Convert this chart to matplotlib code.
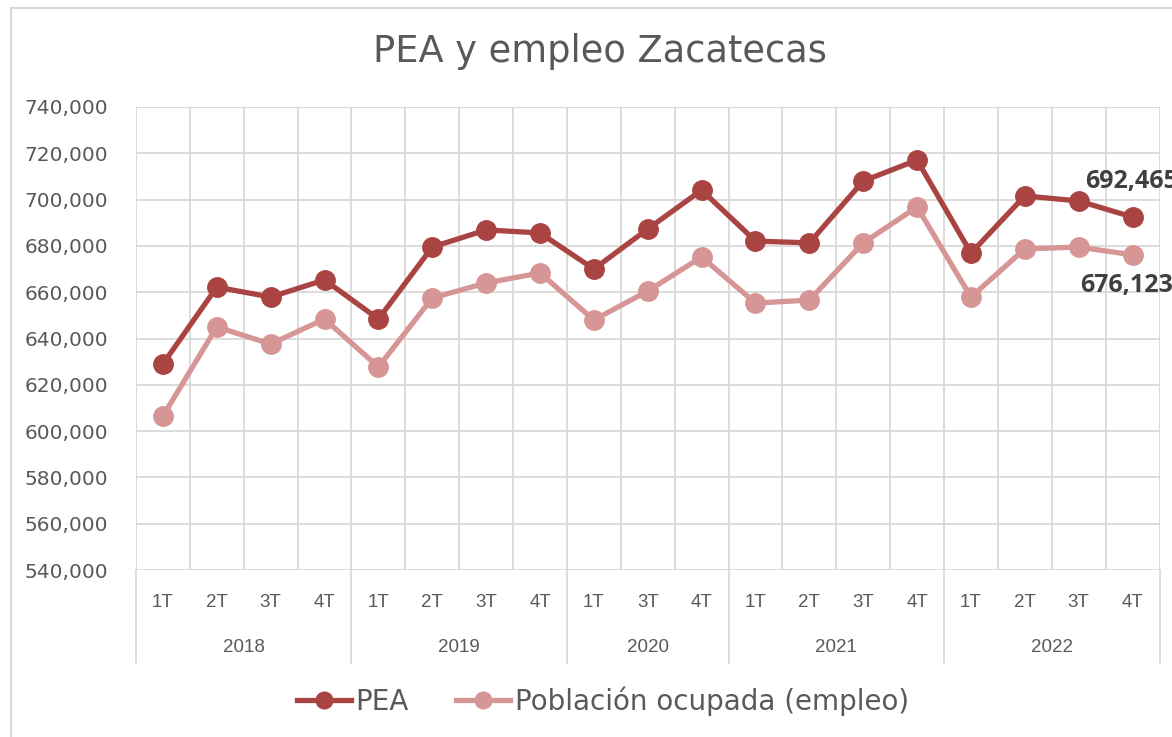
import matplotlib
matplotlib.use("Agg")
import matplotlib.pyplot as plt
from matplotlib.lines import Line2D
from matplotlib.patches import Rectangle

years = ["2018", "2019", "2020", "2021", "2022"]
quarters = [["1T", "2T", "3T", "4T"], ["1T", "2T", "3T", "4T"], ["1T", "3T", "4T"],
            ["1T", "2T", "3T", "4T"], ["1T", "2T", "3T", "4T"]]
pea = [629000, 662200, 657900, 665300, 648400, 679500, 686900, 685600, 670000,
       687300, 704100, 682100, 681300, 708000, 717100, 676900, 701600, 699400, 692465]
empleo = [606500, 645000, 637600, 648400, 627700, 657500, 664000, 668300, 648000,
          660500, 675200, 655300, 656600, 681300, 696800, 657900, 678700, 679500, 676123]
yticks = list(range(540000, 740001, 20000))

C_PEA = "#AA4442"
C_EMP = "#D69695"
GRID = "#D9D9D9"
TXT = "#595959"
FONT = "DejaVu Sans"

W, H = 1172, 737
fig = plt.figure(figsize=(W / 100, H / 100), dpi=100)
fig.patch.set_facecolor("white")

L, R, T, B = 136, 1159.5, 107, 570
ax = fig.add_axes([L / W, 1 - B / H, (R - L) / W, (B - T) / H])

n = len(pea)
x = list(range(n))
ax.set_xlim(-0.5, n - 0.5)
ax.set_ylim(540000, 740000)

ax.plot(x, pea, color=C_PEA, lw=3.8, marker="o", ms=14, zorder=4, solid_capstyle="round")
ax.plot(x, empleo, color=C_EMP, lw=3.8, marker="o", ms=14, zorder=3, solid_capstyle="round")

for v in yticks:
    ax.axhline(v, color=GRID, lw=1.3, zorder=1)
for i in range(n + 1):
    ax.axvline(i - 0.5, color=GRID, lw=1.3, zorder=1)

for s in ax.spines.values():
    s.set_visible(False)
ax.set_xticks([])
ax.set_yticks(yticks)
ax.set_yticklabels([f"{v:,}" for v in yticks], fontsize=14.5, color=TXT, family=FONT)
ax.tick_params(axis="y", length=0, pad=20)

# multi-level category axis
trans = ax.get_xaxis_transform()
pos = 0
bounds = [-0.5]
for yr, qs in zip(years, quarters):
    for j, q in enumerate(qs):
        ax.text(pos + j, -0.07, q, transform=trans, ha="center", va="center",
                fontsize=13.5, color=TXT, family="Liberation Sans")
    ax.text(pos + (len(qs) - 1) / 2, -0.168, yr, transform=trans, ha="center", va="center",
            fontsize=13.5, color=TXT, family="Liberation Sans")
    pos += len(qs)
    bounds.append(pos - 0.5)
bot = -(663 - B) / (B - T)
for b in bounds:
    ax.add_line(Line2D([b, b], [0, bot], transform=trans, color=GRID, lw=1.3, clip_on=False))

# data labels (clipped at the right edge, as in the original)
ax.annotate(f"{pea[-1]:,}", (x[-1], pea[-1]), xytext=(-47, 36), textcoords="offset pixels",
            ha="left", va="center", fontsize=18, fontweight="bold", color="#404040",
            family="Open Sans", annotation_clip=False)
ax.annotate(f"{empleo[-1]:,}", (x[-1], empleo[-1]), xytext=(-52, -31), textcoords="offset pixels",
            ha="left", va="center", fontsize=18, fontweight="bold", color="#404040",
            family="Open Sans", annotation_clip=False)

fig.text(600 / W, 1 - 52 / H, "PEA y empleo Zacatecas", ha="center", va="center",
         fontsize=26.5, color=TXT, family=FONT)

handles = [Line2D([], [], color=C_PEA, lw=3.8, marker="o", ms=12),
           Line2D([], [], color=C_EMP, lw=3.8, marker="o", ms=12)]
leg = fig.legend(handles, ["PEA", "Población ocupada (empleo)"], loc="center",
                 bbox_to_anchor=(603 / W, 1 - 701 / H), ncol=2, frameon=False,
                 prop={"family": FONT, "size": 20}, handlelength=1.95,
                 handletextpad=0.15, columnspacing=1.7)
for t in leg.get_texts():
    t.set_color(TXT)

fig.patches.append(Rectangle((11 / W, -0.01), 1.2, 1 - 8 / H + 0.01, transform=fig.transFigure,
                             fill=False, edgecolor=GRID, lw=1.5))

fig.savefig("out.png", dpi=100)
